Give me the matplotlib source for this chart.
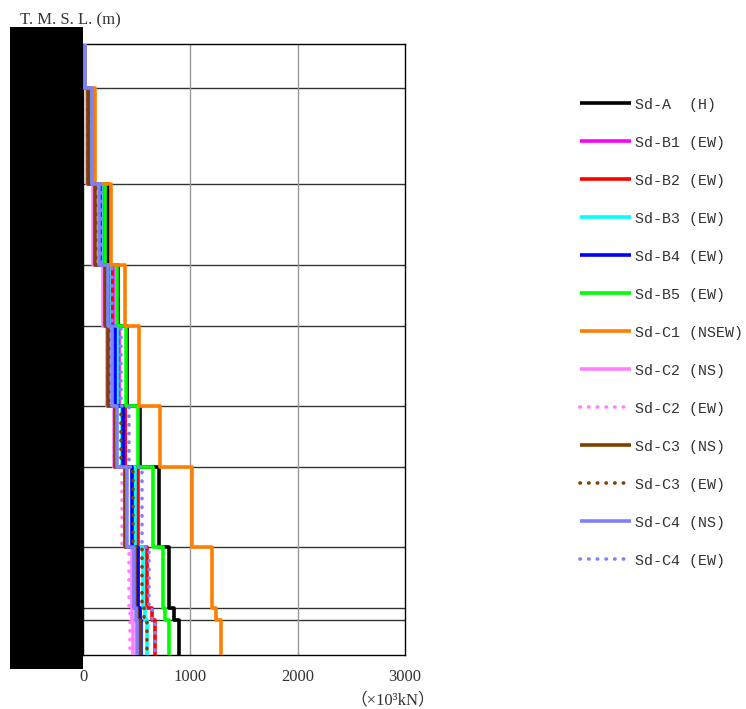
import numpy as np
import matplotlib
matplotlib.use("Agg")
import matplotlib.pyplot as plt
from matplotlib.patches import Rectangle

# Floor levels (T.M.S.L., m) - values hidden in reference, approximated
levels = [47.4, 43.0, 33.4, 25.3, 19.2, 11.2, 5.1, -2.9, -9.0, -10.2, -13.7]

# Shear force per segment (x10^3 kN), top segment first
sd_a   = [20, 85, 236, 329, 413, 531, 708, 801, 851, 890]
sd_b1  = [18, 78, 190, 283, 335, 395, 500, 510, 530, 535]
sd_b2  = [18, 78, 185, 270, 320, 391, 515, 599, 640, 671]
sd_b3  = [17, 75, 165, 240, 314, 366, 485, 556, 575, 595]
sd_b4  = [17, 73, 160, 235, 300, 375, 460, 515, 530, 545]
sd_b5  = [19, 82, 208, 314, 398, 510, 655, 748, 764, 797]
sd_c1  = [22, 112, 258, 391, 525, 717, 1013, 1199, 1236, 1286]
sd_c2ns = [10, 40, 96, 189, 220, 285, 395, 454, 460, 469]
sd_c2ew = [12, 45, 105, 195, 225, 290, 365, 432, 438, 440]
sd_c3ns = [13, 50, 112, 205, 236, 298, 391, 480, 500, 531]
sd_c3ew = [13, 50, 118, 210, 240, 351, 469, 547, 570, 593]
sd_c4ns = [21, 81, 149, 236, 267, 320, 407, 478, 490, 500]
sd_c4ew = [20, 85, 170, 270, 351, 432, 547, 618, 640, 671]

labels = ["Sd-A  (H)", "Sd-B1 (EW)", "Sd-B2 (EW)", "Sd-B3 (EW)", "Sd-B4 (EW)",
          "Sd-B5 (EW)", "Sd-C1 (NSEW)", "Sd-C2 (NS)", "Sd-C2 (EW)",
          "Sd-C3 (NS)", "Sd-C3 (EW)", "Sd-C4 (NS)", "Sd-C4 (EW)"]
series = [sd_a, sd_b1, sd_b2, sd_b3, sd_b4, sd_b5, sd_c1, sd_c2ns, sd_c2ew,
          sd_c3ns, sd_c3ew, sd_c4ns, sd_c4ew]
colors = ["#000000", "#ff00ff", "#ff0000", "#00ffff", "#0000ff", "#00ff00",
          "#ff8000", "#ff80ff", "#ff80ff", "#804000", "#804000", "#8080ff", "#8080ff"]
dotted = [False, False, False, False, False, False, False, False, True,
          False, True, False, True]

xticks = [0, 1000, 2000, 3000]

W, H = 746, 709
fig = plt.figure(figsize=(W / 100, H / 100), dpi=100)
ax = fig.add_axes([83 / W, 1 - 655 / H, (405 - 83) / W, (655 - 44) / H])

lev = np.array(levels)
tops = lev[:-1]
bots = lev[1:]
ys = np.column_stack([tops, bots]).ravel()

handles = []
for vals, c, d, lab in zip(series, colors, dotted, labels):
    xs = np.repeat(np.asarray(vals, dtype=float), 2)
    if d:
        h, = ax.plot(xs, ys, color=c, lw=2.6, linestyle=(0, (0.1, 2.3)),
                     dash_capstyle="round", label=lab, zorder=3)
    else:
        h, = ax.plot(xs, ys, color=c, lw=2.6, label=lab, zorder=3,
                     solid_capstyle="butt")
    handles.append(h)

for y in levels[1:-1]:
    ax.axhline(y, color="#333333", lw=1.0, zorder=1)
for x in xticks[1:-1]:
    ax.axvline(x, color="#999999", lw=1.0, zorder=1)

serif = ["Liberation Serif", "Noto Sans CJK JP"]
ax.set_xlim(0, 3000)
ax.set_ylim(levels[-1], levels[0])
ax.set_xticks(xticks)
ax.set_xticklabels([str(t) for t in xticks], family=serif, fontsize=12, color="#333333")
ax.tick_params(axis="x", length=0, pad=10)
ax.set_yticks([])
for s in ax.spines.values():
    s.set_color("#000000")
    s.set_linewidth(1.0)

fig.text(393 / W, 1 - 700 / H, "（×10³kN）", ha="center", va="center",
         family=serif, fontsize=12, color="#333333")
fig.text(20 / W, 1 - 20 / H, "T. M. S. L. (m)", ha="left", va="center",
         family=serif, fontsize=12, color="#333333")

fig.patches.append(Rectangle((10 / W, 1 - 669 / H), 73 / W, (669 - 27) / H,
                             transform=fig.transFigure, facecolor="black",
                             edgecolor="none", zorder=10))

leg = fig.legend(handles=handles, loc="upper left", bbox_to_anchor=(566 / W, 1 - 84 / H),
                 frameon=False, handlelength=3.4, handletextpad=0.3,
                 labelspacing=1.6, prop={"family": "Liberation Mono", "size": 10.8})
for t in leg.get_texts():
    t.set_color("#333333")

fig.savefig("out.png", dpi=100)
